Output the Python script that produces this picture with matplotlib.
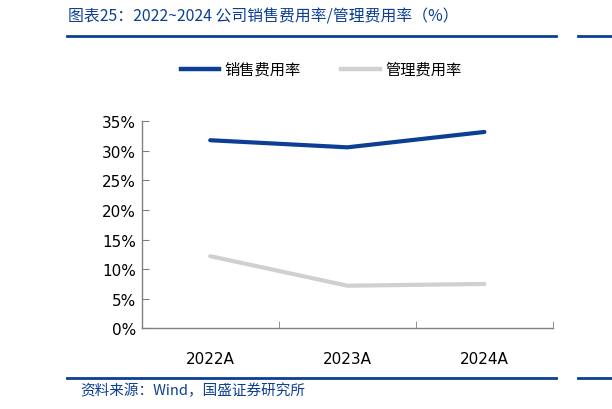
import matplotlib.pyplot as plt
from matplotlib.lines import Line2D
from matplotlib.ticker import FuncFormatter, FixedLocator

plt.rcParams['font.family'] = ['DejaVu Sans', 'Noto Sans CJK SC']

years = ['2022A', '2023A', '2024A']
xiaoshou = [31.8, 30.6, 33.2]   # 销售费用率
guanli = [12.2, 7.2, 7.5]       # 管理费用率

blue = '#0c3f94'
gray = '#d0d0d0'
cjk = ['Noto Sans CJK SC', 'DejaVu Sans']

fig = plt.figure(figsize=(6.12, 4.10), dpi=100)
ax = fig.add_axes([0.2315, 0.1968, 0.672, 0.5049])

x = list(range(len(years)))
ax.plot(x, xiaoshou, color=blue, lw=3.0, solid_capstyle='round')
ax.plot(x, guanli, color=gray, lw=3.0, solid_capstyle='round')

ax.set_xlim(-0.5, 2.5)
ax.set_ylim(0, 35)
ax.set_yticks(range(0, 36, 5))
ax.yaxis.set_major_formatter(FuncFormatter(lambda v, p: f'{v:.0f}%'))
ax.set_xticks(x)
ax.set_xticklabels(years)
ax.xaxis.set_minor_locator(FixedLocator([-0.5, 0.5, 1.5, 2.5]))
ax.tick_params(axis='x', which='major', length=0, pad=16, labelsize=11)
ax.tick_params(axis='x', which='minor', length=5, direction='in', color='#808080')
ax.tick_params(axis='y', length=5, direction='in', color='#808080', labelsize=11, pad=4)
for s in ['top', 'right']:
    ax.spines[s].set_visible(False)
for s in ['left', 'bottom']:
    ax.spines[s].set_color('#808080')
    ax.spines[s].set_linewidth(1)

# title and separator lines
fig.text(68 / 612, 1 - 17 / 410, '图表25：2022~2024 公司销售费用率/管理费用率（%）',
         color=blue, fontsize=11.4, style='italic', va='center', ha='left', family=cjk)
fig.add_artist(Line2D([67 / 612, 556 / 612], [1 - 37 / 410] * 2, color=blue, lw=2))
fig.add_artist(Line2D([578 / 612, 1.0], [1 - 37 / 410] * 2, color=blue, lw=2))
fig.add_artist(Line2D([67 / 612, 556 / 612], [1 - 379 / 410] * 2, color=blue, lw=2))
fig.add_artist(Line2D([578 / 612, 1.0], [1 - 379 / 410] * 2, color=blue, lw=2))
fig.text(80 / 612, 1 - 391 / 410, '资料来源：Wind，国盛证券研究所',
         color=blue, fontsize=10.5, style='italic', va='center', ha='left', family=cjk)

# legend
ly = 1 - 70 / 410
fig.add_artist(Line2D([181 / 612, 219 / 612], [ly, ly], color=blue, lw=3.2))
fig.text(224 / 612, ly, '销售费用率', fontsize=11, va='center', ha='left', family=cjk)
fig.add_artist(Line2D([341 / 612, 380 / 612], [ly, ly], color=gray, lw=3.2))
fig.text(385 / 612, ly, '管理费用率', fontsize=11, va='center', ha='left', family=cjk)

fig.savefig('out.png', dpi=100)
